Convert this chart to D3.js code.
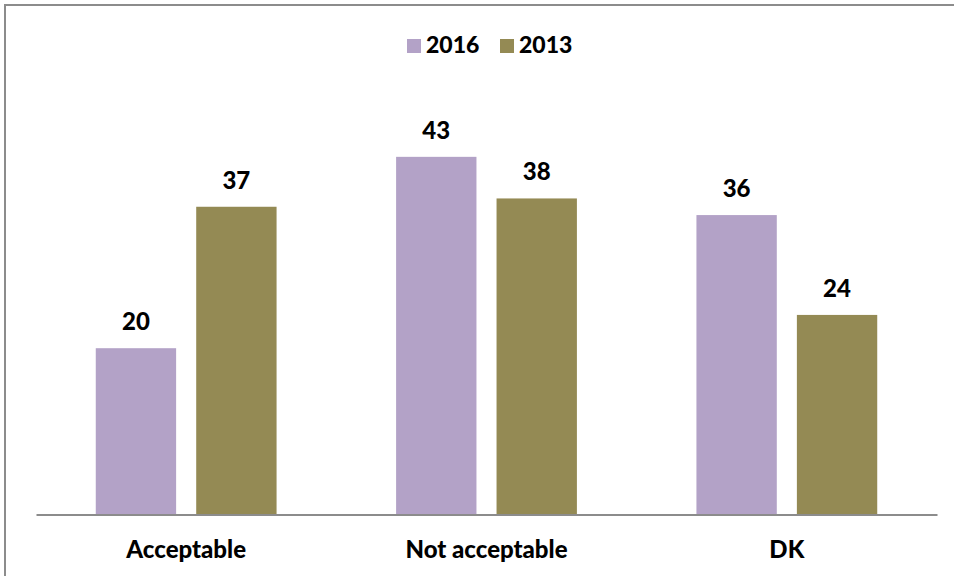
<!DOCTYPE html>
<html>
<head>
<meta charset="utf-8">
<script src="https://cdn.jsdelivr.net/npm/d3@7"></script>
<style>
  body { margin: 0; background: #fff; }
  text { font-family: Lato, Carlito, Calibri, sans-serif; font-weight: 900; fill: #000; }
</style>
</head>
<body>
<svg></svg>
<script>
const size = {w: 954, h: 576};
const margin = {t: 98.6, r: 17, b: 61.4, l: 36};

const categories = ['Acceptable', 'Not acceptable', 'DK'];
const series = ['2016', '2013'];
const values2016 = [20, 43, 36];
const values2013 = [37, 38, 24];
const colors = ['#b3a2c7', '#948a54'];

const data = categories.map((c, i) => ({cat: c, vals: [values2016[i], values2013[i]]}));

const svg = d3.select('svg')
    .attr('width', size.w)
    .attr('height', size.h);

// outer frame (right/bottom edges run off the picture)
svg.append('rect')
    .attr('x', 5).attr('y', 5)
    .attr('width', size.w + 10).attr('height', size.h + 10)
    .attr('fill', 'none')
    .attr('stroke', '#8c8c8c')
    .attr('stroke-width', 2);

const x0 = d3.scaleBand()
    .domain(categories)
    .range([margin.l, size.w - margin.r])
    .padding(0);

const x1 = d3.scaleBand()
    .domain(series)
    .range([x0.bandwidth() * 0.199, x0.bandwidth() * 0.801])
    .paddingInner(0.2);

const y = d3.scaleLinear()
    .domain([0, 50])
    .range([size.h - margin.b, margin.t]);

const colorScale = d3.scaleOrdinal().domain(series).range(colors);

const groups = svg.selectAll('g.group')
    .data(data)
    .join('g')
    .classed('group', true)
    .attr('transform', d => `translate(${x0(d.cat)},0)`);

groups.selectAll('rect')
    .data(d => d.vals.map((v, i) => ({key: series[i], v: v})))
    .join('rect')
    .attr('x', d => x1(d.key))
    .attr('y', d => y(d.v))
    .attr('width', x1.bandwidth())
    .attr('height', d => y(0) - y(d.v))
    .attr('fill', d => colorScale(d.key));

groups.selectAll('text.val')
    .data(d => d.vals.map((v, i) => ({key: series[i], v: v})))
    .join('text')
    .classed('val', true)
    .attr('x', d => x1(d.key) + x1.bandwidth() / 2)
    .attr('y', d => y(d.v) - 18)
    .attr('text-anchor', 'middle')
    .style('font-size', '24px')
    .text(d => d.v);

// x axis
const axisX = d3.axisBottom(x0).tickSize(0).tickPadding(26);
const axisG = svg.append('g')
    .attr('transform', `translate(0, ${y(0)})`)
    .call(axisX);
axisG.select('.domain').attr('stroke', '#8c8c8c').attr('stroke-width', 2);
axisG.selectAll('text')
    .style('font-size', '24px')
    .attr('font-family', null);

// legend
const legendPos = [{x: 407, tx: 426}, {x: 500, tx: 519}];
const legend = svg.append('g').classed('legend', true);
legend.selectAll('rect')
    .data(series)
    .join('rect')
    .attr('x', (d, i) => legendPos[i].x)
    .attr('y', 39)
    .attr('width', 14)
    .attr('height', 14)
    .attr('fill', d => colorScale(d));
legend.selectAll('text')
    .data(series)
    .join('text')
    .attr('x', (d, i) => legendPos[i].tx)
    .attr('y', 53)
    .style('font-size', '23px')
    .text(d => d);
</script>
</body>
</html>
